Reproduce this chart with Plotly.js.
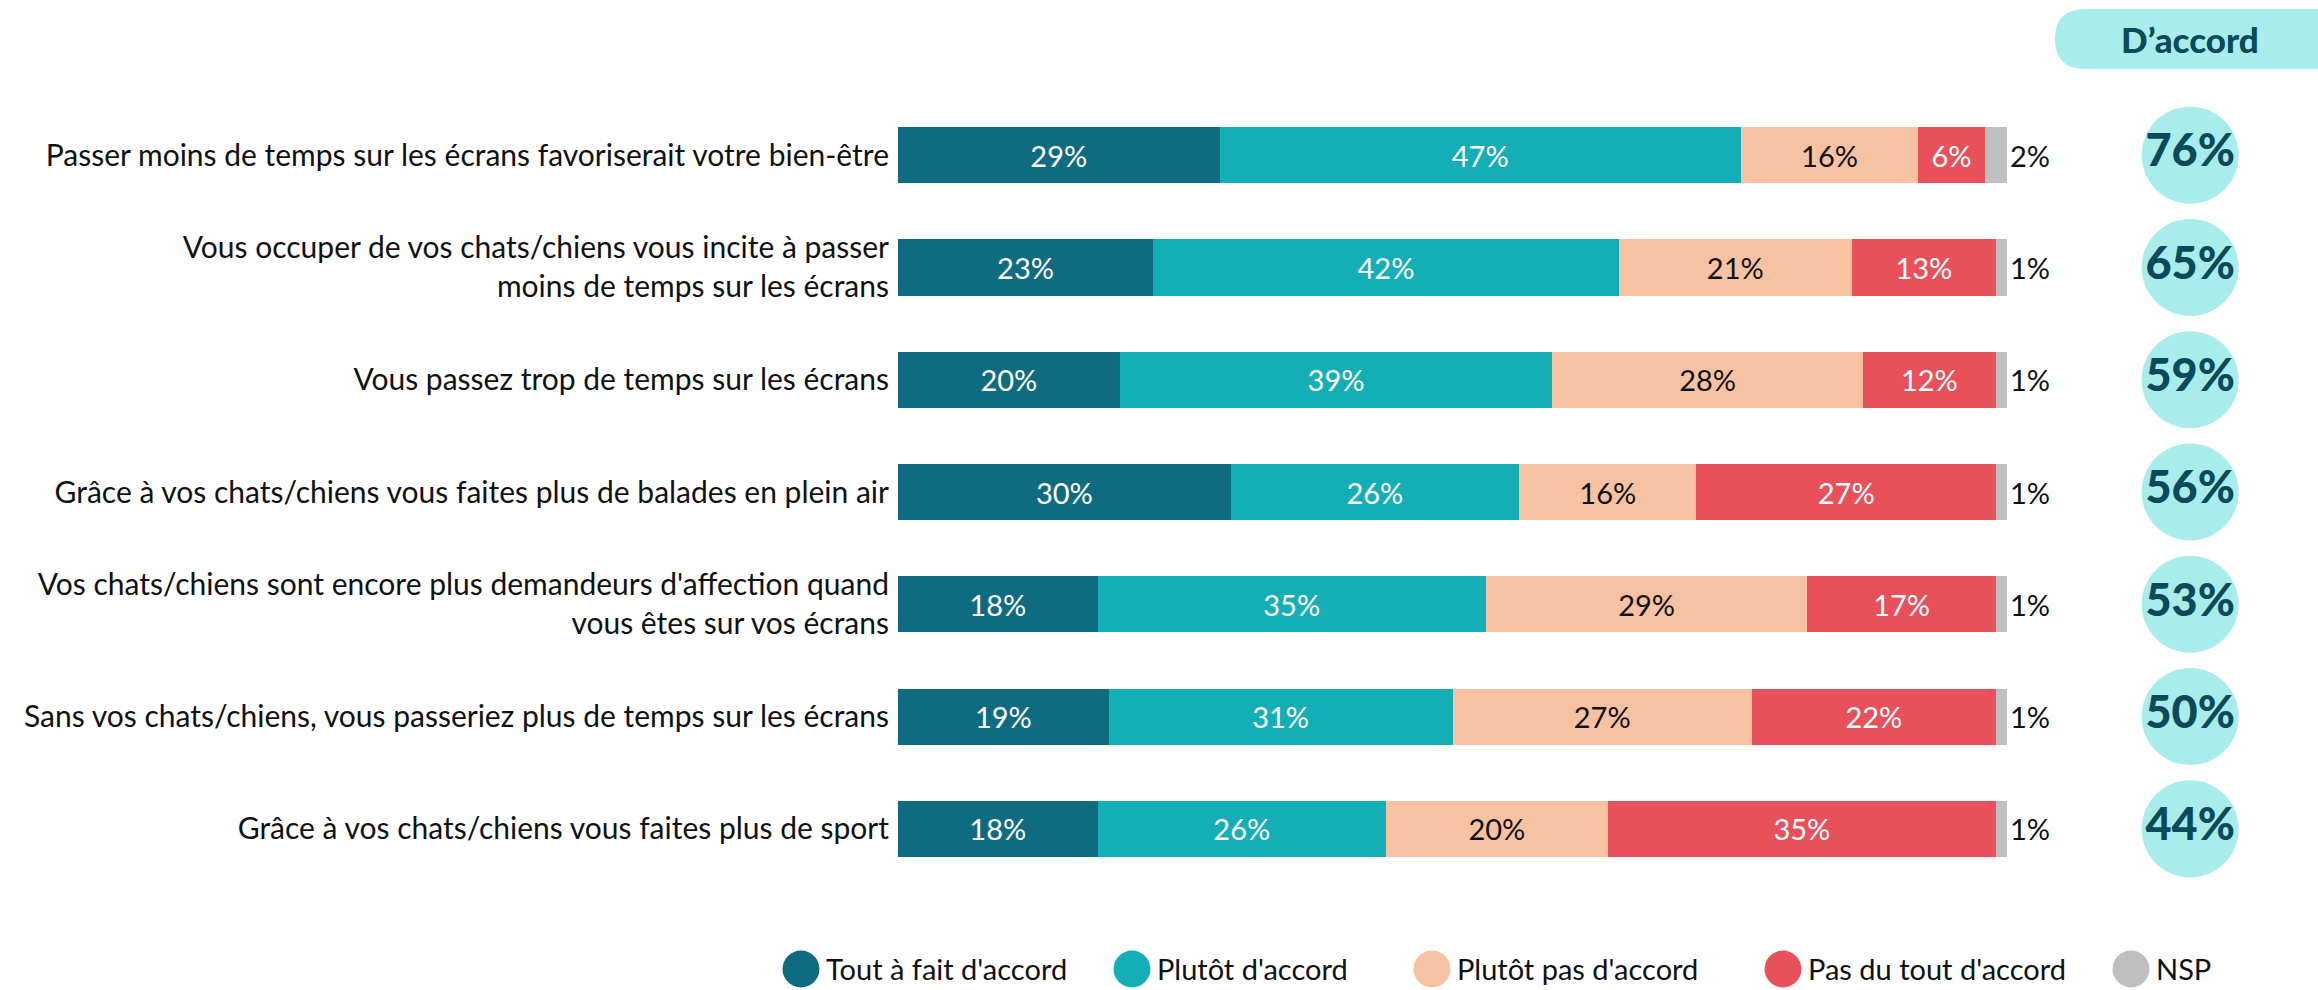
<!DOCTYPE html>
<html>
<head>
<meta charset="utf-8">
<script src="https://cdn.plot.ly/plotly-3.0.1.min.js"></script>
<style>html,body{margin:0;padding:0;background:#fff;}#chart{width:2318px;height:990px;}</style>
</head>
<body>
<div id="chart"></div>
<script>
const categories = [
  "Passer moins de temps sur les écrans favoriserait votre bien-être",
  "Vous occuper de vos chats/chiens vous incite à passer<br>moins de temps sur les écrans",
  "Vous passez trop de temps sur les écrans",
  "Grâce à vos chats/chiens vous faites plus de balades en plein air",
  "Vos chats/chiens sont encore plus demandeurs d'affection quand<br>vous êtes sur vos écrans",
  "Sans vos chats/chiens, vous passeriez plus de temps sur les écrans",
  "Grâce à vos chats/chiens vous faites plus de sport"
];
const toutAFait = [29, 23, 20, 30, 18, 19, 18];
const plutot    = [47, 42, 39, 26, 35, 31, 26];
const plutotPas = [16, 21, 28, 16, 29, 27, 20];
const pasDuTout = [6, 13, 12, 27, 17, 22, 35];
const nsp       = [2, 1, 1, 1, 1, 1, 1];
const daccord   = [76, 65, 59, 56, 53, 50, 44];
const seriesNames = ["Tout à fait d'accord", "Plutôt d'accord", "Plutôt pas d'accord", "Pas du tout d'accord", "NSP"];
const headerLabel = "D’accord";

const colors = ["#0f6b80", "#14afb6", "#f7c2a2", "#e8505a", "#bfbfbf"];
const textColors = ["#ffffff", "#ffffff", "#111111", "#ffffff", "#111111"];
const circleColor = "#a8ecec";
const darkText = "#0b4a58";
const FONT = "Lato, 'Open Sans', sans-serif";

const W = 2318, H = 990;
const M = {l: 898, r: 0, t: 99, b: 105};
const PW = W - M.l - M.r, PH = H - M.t - M.b;
const px2x = p => (p - M.l) / PW;
const px2y = p => (H - M.b - p) / PH;

const values = [toutAFait, plutot, plutotPas, pasDuTout, nsp];
const traces = values.map((v, i) => ({
  type: 'bar', orientation: 'h',
  x: v, y: categories,
  name: seriesNames[i],
  marker: {color: colors[i], line: {width: 0}},
  width: 0.5,
  texttemplate: '%{x}%',
  textposition: i === 4 ? 'outside' : 'inside',
  insidetextanchor: 'middle',
  constraintext: 'none',
  cliponaxis: false,
  textfont: {family: FONT, size: 29, color: textColors[i]},
  insidetextfont: {family: FONT, size: 29, color: textColors[i]},
  outsidetextfont: {family: FONT, size: 29, color: '#111111'},
  hoverinfo: 'skip',
  showlegend: false
}));

traces.push({
  type: 'scatter', mode: 'markers+text',
  x: categories.map(() => headerLabel), y: categories,
  xaxis: 'x2', yaxis: 'y',
  marker: {size: 97, color: circleColor, line: {width: 0}},
  text: daccord.map(v => v + '%'),
  textposition: 'middle center',
  textfont: {family: FONT, size: 45, color: darkText, weight: 900},
  cliponaxis: false,
  hoverinfo: 'skip',
  showlegend: false
});

// header pill
const pl = 2055, pr = 2380, pt = 9, pb = 69, rad = 30;
const rx = rad / PW, ry = rad / PH;
const X = px2x, Y = px2y;
const pillPath = `M ${X(pl)+rx} ${Y(pt)} L ${X(pr)-rx} ${Y(pt)} Q ${X(pr)} ${Y(pt)} ${X(pr)} ${Y(pt)-ry} ` +
  `L ${X(pr)} ${Y(pb)+ry} Q ${X(pr)} ${Y(pb)} ${X(pr)-rx} ${Y(pb)} L ${X(pl)+rx} ${Y(pb)} ` +
  `Q ${X(pl)} ${Y(pb)} ${X(pl)} ${Y(pb)+ry} L ${X(pl)} ${Y(pt)-ry} Q ${X(pl)} ${Y(pt)} ${X(pl)+rx} ${Y(pt)} Z`;

const shapes = [{
  type: 'path', xref: 'paper', yref: 'paper', path: pillPath,
  fillcolor: circleColor, line: {width: 0}, layer: 'below'
}];
const annotations = [{
  xref: 'paper', yref: 'paper', x: X(2190), y: Y(39), xanchor: 'center', yanchor: 'middle',
  text: headerLabel, showarrow: false,
  font: {family: FONT, size: 35, color: darkText, weight: 900}
}];

// custom legend
const legendMarkerX = [801, 1132, 1432, 1783, 2131];
const legendY = 969;
seriesNames.forEach((n, i) => {
  shapes.push({
    type: 'circle', xref: 'paper', yref: 'paper',
    xsizemode: 'pixel', ysizemode: 'pixel',
    xanchor: X(legendMarkerX[i]), yanchor: Y(legendY),
    x0: -18.5, x1: 18.5, y0: -18.5, y1: 18.5,
    fillcolor: colors[i], line: {width: 0}
  });
  annotations.push({
    xref: 'paper', yref: 'paper', x: X(legendMarkerX[i] + 23), y: Y(legendY - 1),
    xanchor: 'left', yanchor: 'middle', showarrow: false,
    text: n, font: {family: FONT, size: 29, color: '#111111'}
  });
});

const layout = {
  width: W, height: H,
  margin: M,
  paper_bgcolor: '#ffffff', plot_bgcolor: '#ffffff',
  barmode: 'stack',
  bargap: 0.5,
  showlegend: false,
  font: {family: FONT, size: 29, color: '#111111'},
  xaxis: {domain: [0, px2x(2007)], range: [0, 100], visible: false, fixedrange: true},
  xaxis2: {domain: [0.82, 1], type: 'category', visible: false, anchor: 'y', fixedrange: true},
  yaxis: {
    type: 'category', range: [6.5, -0.5], showgrid: false, zeroline: false, showline: false,
    ticks: '', ticklabelstandoff: 8,
    tickfont: {family: FONT, size: 30, color: '#111111'}
  },
  shapes: shapes,
  annotations: annotations
};

Plotly.newPlot('chart', traces, layout, {displayModeBar: false, staticPlot: true});
</script>
</body>
</html>
